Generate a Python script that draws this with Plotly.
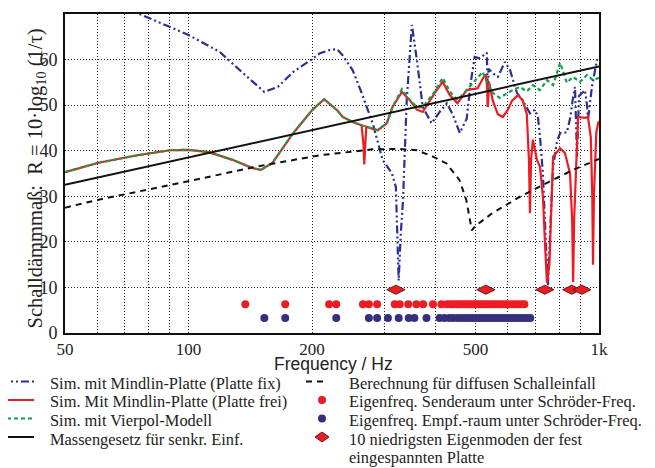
import plotly.graph_objects as go

# ---------------- data ----------------
fix_f = [70, 76, 100, 119, 139, 153, 165, 180, 200, 209, 221, 230, 237, 251, 264, 281, 297, 313, 320, 325,
         329, 333, 340, 350, 360, 372, 391, 409, 426, 440, 458, 476, 487, 498, 512, 525, 533, 535, 536, 538,
         551, 567, 590, 607, 620, 631, 652, 679, 698, 710, 720, 730, 742, 751, 760, 773, 790, 804, 835, 850,
         864, 874, 884, 894, 924, 935, 940, 961, 975, 989, 1000]
fix_R = [71.5, 70, 65.4, 61.7, 56.2, 52.9, 54.0, 57.3, 60.1, 61.4, 62.1, 62.3, 61.0, 57.7, 52.7, 46, 38, 35, 32, 11.5,
         22, 29, 51, 67.6, 59.9, 49.6, 46, 48.5, 50.4, 48, 43.9, 47, 55, 60.6, 60.3, 61, 61.5, 55, 49.6, 58,
         57, 56.2, 59.5, 57.7, 55, 52.7, 51, 48.2, 49, 47.4, 42, 35, 20, 10.5, 22, 36.5, 42, 43.9, 44, 47,
         51.5, 54, 38.7, 52, 53.3, 50, 46.7, 54, 57, 60, 59.5]

common_f = [50, 60, 75, 90, 100, 112, 128, 143, 150, 160, 180, 200, 214, 230, 237.5, 251, 264]
common_R = [35.3, 37.3, 39.0, 40.1, 40.2, 39.7, 38.0, 36.2, 35.8, 37.3, 43.9, 48.9, 51.3, 48.9, 47.4, 46.3, 45.6]

frei_f = [267, 268, 269, 271, 276, 289, 304, 314, 331, 346, 360, 372, 398, 416, 433, 452, 476, 506, 527, 530,
          534, 536, 540, 551, 567, 583, 600, 614, 635, 652, 667, 675, 679, 683, 690, 706, 718, 730, 740, 747,
          757, 773, 804, 826, 850, 860, 865, 870, 889, 924, 940, 955, 963, 967, 972, 985, 995, 1000]
frei_R = [41, 37, 41, 45.3, 45, 44.5, 46, 49.6, 52.9, 51.1, 49, 48.5, 52.7, 55.1, 52.2, 50.4, 53.3, 53.7, 56.6, 56.6,
          54, 49.6, 55, 51, 48, 47.4, 49, 51, 52.2, 51, 48, 38, 26.3, 38, 42.4, 38, 36.5, 30, 18, 11,
          15, 38.7, 40.5, 39.5, 35, 25, 11.2, 25, 47.4, 47.2, 47.4, 43, 30, 15, 30, 44, 46, 46.5]

vier_f = [276, 289, 304, 314, 331, 346, 360, 372, 398, 416, 433, 450, 458, 476, 493, 521, 527, 551, 573, 607,
          641, 667, 690, 718, 747, 773, 804, 835, 864, 899, 935, 967, 1000]
vier_R = [45, 44.5, 46, 49.6, 53.5, 51.1, 49.6, 49.5, 53, 56, 53, 51.3, 51.6, 53.3, 55, 57.3, 56, 52.7, 51.6, 53,
          54, 53, 54.4, 53.3, 55.5, 54.4, 59.3, 54.9, 56.2, 55.1, 56.6, 55.5, 56]

mass_f = [50, 1000]
mass_R = [32.5, 58.5]

diff_f = [50, 60, 95, 148, 209, 233, 280, 327, 360, 394, 425, 457, 475, 490, 500, 550, 642, 745, 865, 1000]
diff_R = [27.5, 29.2, 32.9, 36.6, 39.0, 39.5, 40.3, 40.4, 40.1, 38.7, 37.2, 33.6, 29.2, 22.5, 23.5, 26.3, 29.9, 32.9, 35.8, 38.2]

sender_f = [137.5, 172, 220, 229, 266, 275, 288, 318, 327, 343, 359, 373, 394, 413, 426, 434, 441, 449, 456, 463,
            471, 478, 486, 494, 502, 510, 518, 526, 535, 544, 553, 562, 572, 582, 592, 602, 613, 624, 636, 648, 658]
sender_level = 6.3

empf_f = [153, 172, 229, 275, 288, 306, 325, 344, 355, 380, 409, 420, 432, 441, 452, 462, 472, 482, 492, 502,
          512, 522, 532, 542, 552, 562, 572, 583, 594, 605, 617, 629, 641, 654, 667, 680]
empf_level = 3.3

plate_f = [320, 530, 738, 858, 908]
plate_level = 9.5

x_tickvals = [50, 100, 200, 500, 1000]
x_ticktext = ["50", "100", "200", "500", "1k"]
x_gridvals = [60, 70, 80, 90, 300, 400, 600, 700, 800, 900]
y_tickvals = [0, 10, 20, 30, 40, 50, 60, 70]

legend_left = ["Sim. mit Mindlin-Platte (Platte fix)", "Sim. Mit Mindlin-Platte (Platte frei)",
               "Sim. mit Vierpol-Modell", "Massengesetz für senkr. Einf."]
legend_right = ["Berechnung für diffusen Schalleinfall", "Eigenfreq. Senderaum unter Schröder-Freq.",
                "Eigenfreq. Empf.-raum unter Schröder-Freq.", "10 niedrigsten Eigenmoden der fest",
                "eingespannten Platte"]

# ---------------- styles ----------------
BLUE = "#2a3190"
RED = "#ec1c24"
GREEN = "#12a04a"
BLACK = "#111111"
DOTBLUE = "#34307e"
TXT = "#222222"
SERIF = "Liberation Serif, Times New Roman, serif"
SANS = "Liberation Sans, Arial, sans-serif"
BLUE_DASH = "8px,3px,2px,3px,2px,3px"
GREEN_DASH = "4px,3px"
BLACK_DASH = "6px,5px"

# page offset (body margin) -> all pixel positions below are window pixels
OFF = 8
W, H = 655 - OFF, 468 - OFF
PL, PR, PT, PB = 65, 599, 14, 333          # plot box in window pixels
ML, MT = PL - OFF, PT - OFF
MR, MB = W - (PR - OFF), H - (PB - OFF)
PW, PH = PR - PL, PB - PT


def px_x(p):
    return (p - PL) / PW


def px_y(p):
    return (PB - p) / PH


fig = go.Figure()

fig.add_trace(go.Scatter(x=fix_f, y=fix_R, mode="lines", name=legend_left[0],
                         line=dict(color=BLUE, width=2.2, dash=BLUE_DASH)))
fig.add_trace(go.Scatter(x=common_f + frei_f, y=common_R + frei_R, mode="lines", name=legend_left[1],
                         line=dict(color=RED, width=2.2)))
fig.add_trace(go.Scatter(x=common_f + vier_f, y=common_R + vier_R, mode="lines", name=legend_left[2],
                         line=dict(color=GREEN, width=2.2, dash=GREEN_DASH)))
fig.add_trace(go.Scatter(x=mass_f, y=mass_R, mode="lines", name=legend_left[3],
                         line=dict(color=BLACK, width=2)))
fig.add_trace(go.Scatter(x=diff_f, y=diff_R, mode="lines", name=legend_right[0],
                         line=dict(color=BLACK, width=2, dash=BLACK_DASH)))
fig.add_trace(go.Scatter(x=sender_f, y=[sender_level] * len(sender_f), mode="markers", name=legend_right[1],
                         marker=dict(color=RED, size=8)))
fig.add_trace(go.Scatter(x=empf_f, y=[empf_level] * len(empf_f), mode="markers", name=legend_right[2],
                         marker=dict(color=DOTBLUE, size=8)))
fig.add_trace(go.Scatter(x=plate_f, y=[plate_level] * len(plate_f), mode="markers", name=legend_right[3],
                         marker=dict(color=RED, size=13, symbol="diamond-wide",
                                     line=dict(color="#6a1a1a", width=1))))

grid = dict(showgrid=True, gridcolor="#222222", gridwidth=1, griddash="1px,2px")

fig.update_xaxes(type="log", range=[1.69897, 3.0], tickmode="array", tickvals=x_tickvals, ticktext=x_ticktext,
                 showline=True, linecolor=BLACK, linewidth=2, mirror=True, ticks="", zeroline=False,
                 tickfont=dict(family=SERIF, size=17, color=TXT),
                 minor=dict(tickmode="array", tickvals=x_gridvals, ticks="", **grid), **grid)
fig.update_yaxes(range=[0, 70], tickmode="array", tickvals=y_tickvals,
                 showline=True, linecolor=BLACK, linewidth=2, mirror=True, ticks="", zeroline=False,
                 tickfont=dict(family=SERIF, size=18, color=TXT), ticklabelstandoff=2, **grid)

fig.add_annotation(text="Frequency / Hz", xref="paper", yref="paper", x=px_x(333), y=px_y(364),
                   yanchor="middle", showarrow=False, font=dict(family=SANS, size=17.5, color=TXT))
fig.add_annotation(text="Schalldämmmaß:  R = 10·log<sub>10</sub> (1/τ)", xref="paper", yref="paper",
                   x=px_x(22), y=px_y(179), textangle=-90, showarrow=False,
                   font=dict(family=SERIF, size=20.5, color=TXT))

# ---------------- hand-built legend (two columns) ----------------
rows = [383.5, 402, 420.5, 439, 457.5]
lfont = dict(family=SERIF, size=16.4, color=TXT)
left_styles = [dict(color=BLUE, width=2.2, dash=BLUE_DASH), dict(color=RED, width=2.2),
               dict(color=GREEN, width=2.2, dash=GREEN_DASH), dict(color=BLACK, width=2)]
for i, txt in enumerate(legend_left):
    yy = px_y(rows[i] - 2)
    fig.add_shape(type="line", xref="paper", yref="paper", x0=px_x(0), x1=px_x(34), y0=yy, y1=yy,
                  line=left_styles[i])
    fig.add_annotation(text=txt, xref="paper", yref="paper", x=px_x(48), y=px_y(rows[i]),
                       xanchor="left", yanchor="middle", showarrow=False, font=lfont)
for i, txt in enumerate(legend_right):
    fig.add_annotation(text=txt, xref="paper", yref="paper", x=px_x(347), y=px_y(rows[i]),
                       xanchor="left", yanchor="middle", showarrow=False, font=lfont)

yy = px_y(rows[0] - 2)
fig.add_shape(type="line", xref="paper", yref="paper", x0=px_x(306), x1=px_x(327), y0=yy, y1=yy,
              line=dict(color=BLACK, width=2, dash=BLACK_DASH))
for i, col in [(1, RED), (2, DOTBLUE)]:
    fig.add_shape(type="circle", xref="paper", yref="paper", xsizemode="pixel", ysizemode="pixel",
                  xanchor=px_x(322), yanchor=px_y(rows[i] - 2), x0=-4, x1=4, y0=-4, y1=4,
                  fillcolor=col, line=dict(color=col, width=0))
fig.add_shape(type="path", xref="paper", yref="paper", xsizemode="pixel", ysizemode="pixel",
              xanchor=px_x(322), yanchor=px_y(rows[3] - 2), path="M -7 0 L 0 5 L 7 0 L 0 -5 Z",
              fillcolor=RED, line=dict(color="#6a1a1a", width=1))

fig.update_layout(
    width=W, height=H,
    margin=dict(l=ML, r=MR, t=MT, b=MB, autoexpand=False),
    paper_bgcolor="white", plot_bgcolor="white",
    showlegend=False,
)

fig.write_html("out.html")
